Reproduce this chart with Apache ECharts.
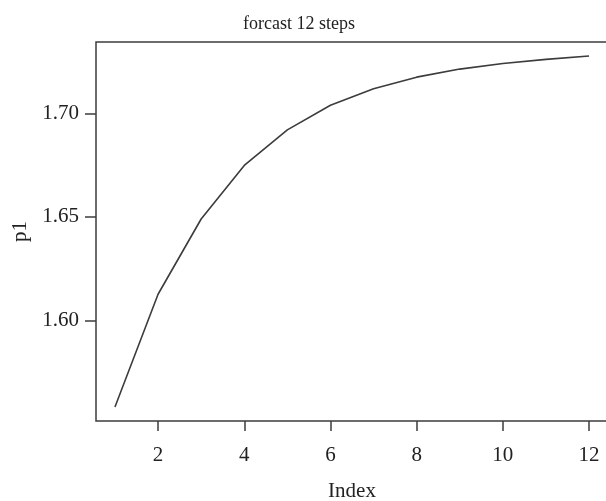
<!DOCTYPE html>
<html lang="en">
<head>
    <meta charset="UTF-8">
    <script src="https://cdn.jsdelivr.net/npm/echarts@6/dist/echarts.min.js" type="text/javascript"></script>
    <style>
        html,body{margin:0;padding:0;background:#fff}
        #chart{width:606px;height:501px}
    </style>
    <title>forcast 12 steps</title>
</head>
<body>
    <div id="chart"></div>
    <script type="text/javascript">
        var steps = [1, 2, 3, 4, 5, 6, 7, 8, 9, 10, 11, 12];
        var p1 = [1.5581, 1.6126, 1.6490, 1.6749, 1.6921, 1.7040, 1.7120, 1.7176, 1.7215, 1.7242, 1.7262, 1.7278];
        var xTicks = [2, 4, 6, 8, 10, 12];
        var yTicks = [1.60, 1.65, 1.70];

        var points = [];
        for (var i = 0; i < steps.length; i++) {
            points.push([steps[i], p1[i]]);
        }

        var font = '"Liberation Serif", "DejaVu Serif", serif';
        var ink = '#3c3c3c';

        var ec = echarts.init(document.getElementById('chart'), null, {renderer: 'canvas'});
        var option = {
            animation: false,
            backgroundColor: '#fff',
            title: {
                text: 'forcast 12 steps',
                left: 238,
                top: 10,
                textStyle: {fontFamily: font, fontSize: 18, fontWeight: 'normal', color: '#222'}
            },
            grid: {
                left: 96, top: 42, width: 512, bottom: 80,
                outerBoundsMode: 'none',
                containLabel: false,
                show: true,
                borderColor: ink,
                borderWidth: 1.5
            },
            xAxis: {
                type: 'value',
                min: 0.56,
                max: 12.44,
                name: 'Index',
                nameLocation: 'middle',
                nameGap: 60,
                nameTextStyle: {fontFamily: font, fontSize: 21, color: '#222'},
                axisLine: {show: false},
                splitLine: {show: false},
                axisTick: {show: true, length: 10, customValues: xTicks, lineStyle: {color: ink, width: 1.5}},
                axisLabel: {customValues: xTicks, margin: 24, fontFamily: font, fontSize: 21, color: '#222'}
            },
            yAxis: {
                type: 'value',
                min: 1.5513,
                max: 1.7346,
                name: 'p1',
                nameLocation: 'middle',
                nameGap: 54,
                nameRotate: 90,
                nameTextStyle: {fontFamily: font, fontSize: 21, color: '#222'},
                axisLine: {show: false},
                splitLine: {show: false},
                axisTick: {show: true, length: 11, customValues: yTicks, lineStyle: {color: ink, width: 1.5}},
                axisLabel: {
                    customValues: yTicks, margin: 17, fontFamily: font, fontSize: 21, color: '#222',
                    formatter: function (v) { return v.toFixed(2); }
                }
            },
            series: [{
                type: 'line',
                data: points,
                showSymbol: false,
                lineStyle: {color: ink, width: 1.6}
            }]
        };
        ec.setOption(option);
    </script>
</body>
</html>
